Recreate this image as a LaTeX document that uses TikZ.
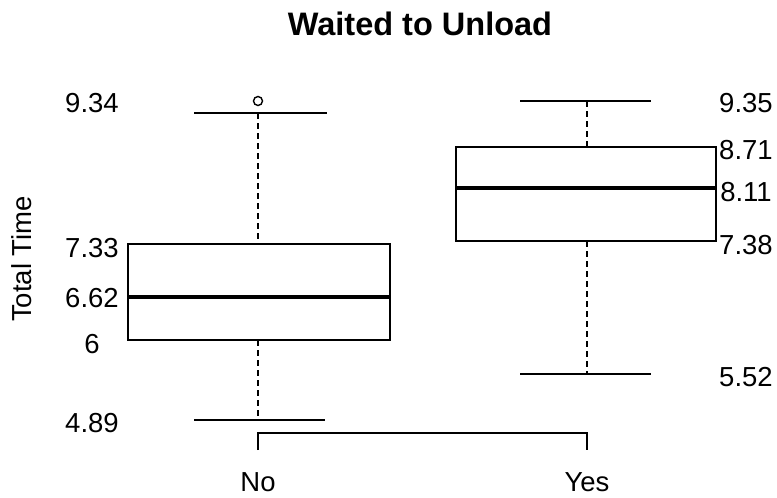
\documentclass[tikz,border=0pt]{standalone}
\usepackage{fontspec}
\setmainfont{Liberation Sans}
\usepackage{tikz}
\usetikzlibrary{calc}
\usetikzlibrary{positioning}

\begin{document}
\begin{tikzpicture}[x=1pt,y=-1pt,
	lbl/.style={font=\fontsize{27.5}{31}\selectfont,inner sep=0pt},
	boxline/.style={line width=1.4pt},
	medline/.style={line width=4.5pt},
	whisk/.style={line width=1.4pt,dash pattern=on 6pt off 4pt}]
	\useasboundingbox (0,0) rectangle (777,498);
	\node[font=\fontsize{32.5}{38}\selectfont\bfseries,inner sep=0pt] (title) at (420,24) {Waited to Unload};
	\node[lbl,rotate=90] (ylab) at (22,259) {Total Time};
	% box No
	\draw[whisk] (258,113) -- (258,244);
	\draw[whisk] (258,340) -- (258,420);
	\draw[boxline] (194,113) -- (327,113);
	\draw[boxline] (194,420) -- (325,420);
	\draw[boxline] (128,244) rectangle (390,340);
	\draw[medline] (128,297) -- (390,297);
	\draw[boxline] (258,101) circle (4.5);
	% box Yes
	\draw[whisk] (587,101) -- (587,147);
	\draw[whisk] (587,241) -- (587,374);
	\draw[boxline] (520,101) -- (651,101);
	\draw[boxline] (520,374) -- (651,374);
	\draw[boxline] (456,147) rectangle (716,241);
	\draw[medline] (456,188) -- (716,188);
	% axis
	\draw[boxline] (258,450) -- (258,433) -- (587,433) -- (587,450);
	\node[lbl] (no) at (258,482) {No};
	\node[lbl] (yes) at (587,482) {Yes};
	% values
	\node[lbl] (n934) at (92,103) {9.34};
	\node[lbl] (n733) at (92,248) {7.33};
	\node[lbl] (n662) at (92,298) {6.62};
	\node[lbl] (n6) at (92,344) {6};
	\node[lbl] (n489) at (92,423) {4.89};
	\node[lbl] (y935) at (746,103) {9.35};
	\node[lbl] (y871) at (746,150) {8.71};
	\node[lbl] (y811) at (746,192) {8.11};
	\node[lbl] (y738) at (746,245) {7.38};
	\node[lbl] (y552) at (746,377) {5.52};
\end{tikzpicture}
\end{document}
